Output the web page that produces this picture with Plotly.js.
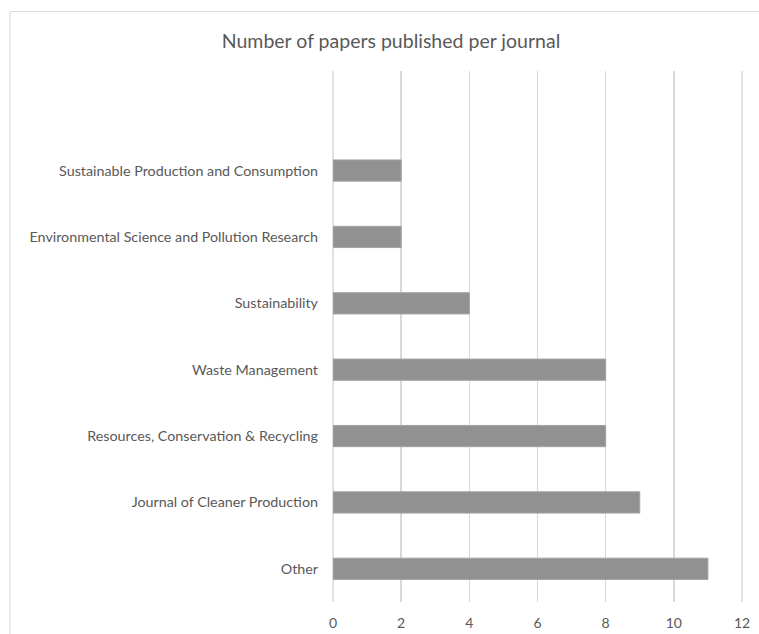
<!DOCTYPE html>
<html>
<head>
<meta charset="utf-8">
<script src="https://cdn.plot.ly/plotly-3.0.1.min.js"></script>
<style>
  html, body { margin: 0; padding: 0; background: #ffffff; }
  #chart { width: 759px; height: 634px; }
</style>
</head>
<body>
<div id="chart"></div>
<script>
// Data (bottom to top)
const journals = [
  "Other",
  "Journal of Cleaner Production",
  "Resources, Conservation & Recycling",
  "Waste Management",
  "Sustainability",
  "Environmental Science and Pollution Research",
  "Sustainable Production and Consumption"
];
const papers = [11, 9, 8, 8, 4, 2, 2];
const xTicks = [0, 2, 4, 6, 8, 10, 12];

const FONT = "Lato, 'Open Sans', 'DejaVu Sans', sans-serif";
const GRID = "#d9d9d9";

const trace = {
  type: "bar",
  orientation: "h",
  y: journals,
  x: papers,
  width: 0.32,
  marker: { color: "#919191", line: { color: "#a3a3a3", width: 1 } },
  hoverinfo: "x+y"
};

// edge gridlines (plot-area borders at x = range min / max)
const edgeLines = [0, 1].map(p => ({
  type: "line", xref: "paper", yref: "paper",
  x0: p, x1: p, y0: 0, y1: 1,
  line: { color: GRID, width: 1.5 },
  layer: "below"
}));

const layout = {
  width: 759,
  height: 634,
  margin: { l: 333, r: 17, t: 71, b: 32, pad: 0 },
  paper_bgcolor: "#ffffff",
  plot_bgcolor: "#ffffff",
  showlegend: false,
  font: { family: FONT, color: "#595959", size: 14 },
  title: {
    text: "Number of papers published per journal",
    font: { family: FONT, size: 19.5, color: "#595959" },
    x: 391 / 759,
    xanchor: "center",
    y: 1 - 41 / 634,
    yanchor: "middle",
    xref: "container",
    yref: "container"
  },
  xaxis: {
    range: [0, 12],
    tickvals: xTicks,
    ticktext: xTicks.map(String),
    showgrid: true,
    gridcolor: GRID,
    gridwidth: 1.5,
    zeroline: false,
    showline: false,
    ticks: "",
    ticklabelstandoff: 11,
    tickfont: { family: FONT, size: 14, color: "#595959" },
    fixedrange: true
  },
  yaxis: {
    type: "category",
    categoryorder: "array",
    categoryarray: journals,
    range: [-0.5, 7.5],
    showgrid: false,
    zeroline: false,
    showline: false,
    ticks: "",
    ticklabelstandoff: 14,
    tickfont: { family: FONT, size: 14.3, color: "#595959" },
    fixedrange: true
  },
  shapes: edgeLines.concat([
    {
      type: "rect",
      xref: "paper", yref: "paper",
      x0: (10 - 333) / 409, x1: 2,
      y0: -1, y1: (602 - 11.5) / 531,
      line: { color: GRID, width: 1 },
      fillcolor: "rgba(0,0,0,0)",
      layer: "above"
    }
  ])
};

Plotly.newPlot("chart", [trace], layout, { displayModeBar: false, staticPlot: true });
</script>
</body>
</html>
